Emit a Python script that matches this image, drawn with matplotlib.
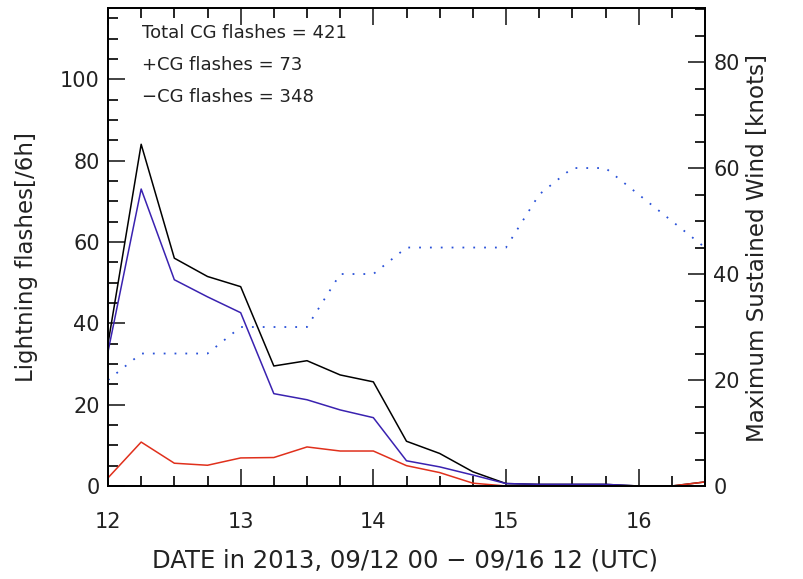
import matplotlib
matplotlib.use("Agg")
import matplotlib.pyplot as plt
import numpy as np
from matplotlib.ticker import MultipleLocator

# ---- data (6-hourly, 09/12 00 UTC .. 09/16 12 UTC) ----
day = [12.0, 12.25, 12.5, 12.75, 13.0, 13.25, 13.5, 13.75, 14.0, 14.25,
       14.5, 14.75, 15.0, 15.25, 15.5, 15.75, 16.0, 16.25, 16.5]
total_cg = [35, 84, 56, 51.5, 49, 29.5, 30.8, 27.3, 25.6, 11, 8, 3.5,
            0.6, 0.4, 0.4, 0.4, 0, 0, 1]
neg_cg = [33, 73, 50.7, 46.5, 42.6, 22.7, 21.2, 18.7, 16.8, 6.2, 4.7, 2.7,
          0.6, 0.4, 0.4, 0.4, 0, 0, 0]
pos_cg = [2, 10.8, 5.6, 5.1, 6.9, 7, 9.6, 8.6, 8.6, 5, 3.3, 0.7,
          0, 0, 0, 0, 0, 0, 1]
max_wind = [20, 25, 25, 25, 30, 30, 30, 40, 40, 45, 45, 45, 45, 55, 60, 60,
            55, 50, 45]

annot = ["Total CG flashes = 421", "+CG flashes = 73", "\u2212CG flashes = 348"]

plt.rcParams['font.family'] = ['DejaVu Sans']

fig = plt.figure(figsize=(8.04, 5.79), dpi=100)
ax = fig.add_axes([108/804, 1-486/579, (705-108)/804, (486-8)/579])
ax2 = ax.twinx()

ax.plot(day, total_cg, color='black', lw=1.1)
ax.plot(day, neg_cg, color='#3a22b0', lw=1.1)
ax.plot(day, pos_cg, color='#e0301c', lw=1.1)
ax2.plot(day, max_wind, color='#2850d8', lw=1.3, linestyle=(0, (1, 5)))

ax.set_xlim(12, 16.5)
ax.set_ylim(0, 117.5)
ax2.set_ylim(0, 90.2)

ax.xaxis.set_major_locator(MultipleLocator(1))
ax.xaxis.set_minor_locator(MultipleLocator(0.25))
ax.yaxis.set_major_locator(MultipleLocator(20))
ax.yaxis.set_minor_locator(MultipleLocator(5))
ax2.yaxis.set_major_locator(MultipleLocator(20))
ax2.yaxis.set_minor_locator(MultipleLocator(5))

fs = 15
ax.tick_params(axis='both', which='major', direction='in', length=12, width=1.2,
               labelsize=fs, top=True, colors='#222222')
ax.tick_params(axis='both', which='minor', direction='in', length=7, width=1.2,
               top=True)
ax.tick_params(axis='x', which='major', pad=19)
ax.tick_params(axis='y', which='major', pad=6)
ax2.tick_params(axis='y', which='major', direction='in', length=12, width=1.2,
                labelsize=fs, pad=6, colors='#222222')
ax2.tick_params(axis='y', which='minor', direction='in', length=7, width=1.2)

for a in (ax, ax2):
    for s in a.spines.values():
        s.set_linewidth(1.3)

ax.set_xlabel("DATE in 2013, 09/12 00 \u2212 09/16 12 (UTC)", fontsize=17.5,
              color='#222222')
ax.xaxis.set_label_coords(0.497, -0.130)
ax.set_ylabel("Lightning flashes[/6h]", fontsize=16.5, color='#222222')
ax.yaxis.set_label_coords(-0.117, 0.479)
ax2.set_ylabel("Maximum Sustained Wind [knots]", fontsize=16.6, color='#222222')
ax2.yaxis.set_label_coords(1.069, 0.498)

for i, t in enumerate(annot):
    ax.text(0.057, 0.948 - i*0.067, t, transform=ax.transAxes, fontsize=13,
            va='center', ha='left', color='#222222')

fig.savefig("out.png", dpi=100)
